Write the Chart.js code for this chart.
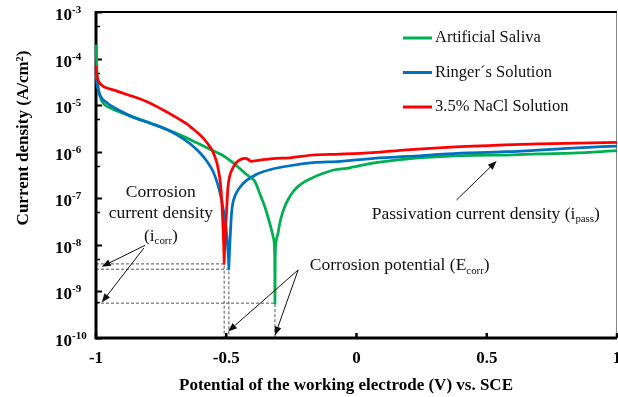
<!DOCTYPE html>
<html>
<head>
<meta charset="utf-8">
<title>Potentiodynamic polarisation curves</title>
<script src="https://cdn.jsdelivr.net/npm/chart.js@4.4.1/dist/chart.umd.min.js"></script>
<style>
  html, body { margin: 0; padding: 0; background: #fff; }
  #wrap { width: 618px; height: 397px; }
</style>
</head>
<body>
<div id="wrap"><canvas id="chart" width="618" height="397"></canvas></div>
<script>
// ---- Data: potential (V vs. SCE) and current density (A/cm2) ----

const salivaE = [-1.000, -0.998, -0.996, -0.992, -0.985, -0.975, -0.950, -0.900, -0.858, -0.793,
  -0.728, -0.678, -0.613, -0.551, -0.513, -0.486, -0.460, -0.436, -0.415, -0.390,
  -0.370, -0.352, -0.333, -0.320, -0.316, -0.314, -0.313, -0.312, -0.310, -0.306,
  -0.301, -0.295, -0.288, -0.276, -0.263, -0.245, -0.224, -0.200, -0.173, -0.130,
  -0.083, -0.037, 0.062, 0.200, 0.319, 0.450, 0.576, 0.700, 0.829, 1.000];
const salivaI = [2.0e-4, 1.0e-4, 5.0e-5, 2.6e-5, 1.6e-5, 1.15e-5, 9.0e-6, 6.8e-6, 5.6e-6, 4.2e-6,
  3.0e-6, 2.3e-6, 1.55e-6, 1.05e-6, 8.3e-7, 6.5e-7, 5.0e-7, 3.8e-7, 3.0e-7, 2.3e-7,
  1.2e-7, 6.6e-8, 2.9e-8, 1.5e-8, 1.1e-8, 5.0e-9, 5.6e-10, 5.0e-9, 1.0e-8, 1.4e-8,
  1.8e-8, 2.8e-8, 4.1e-8, 6.5e-8, 9.3e-8, 1.35e-7, 1.8e-7, 2.25e-7, 2.7e-7, 3.4e-7,
  4.1e-7, 4.4e-7, 5.7e-7, 7.0e-7, 7.8e-7, 8.3e-7, 8.5e-7, 9.0e-7, 9.3e-7, 1.05e-6];

const ringerE = [-1.000, -0.998, -0.995, -0.988, -0.975, -0.960, -0.946, -0.900, -0.858, -0.793,
  -0.728, -0.689, -0.640, -0.601, -0.575, -0.551, -0.535, -0.524, -0.513, -0.505,
  -0.498, -0.494, -0.491, -0.490, -0.489, -0.487, -0.485, -0.482, -0.478, -0.470,
  -0.455, -0.438, -0.421, -0.400, -0.383, -0.333, -0.256, -0.168, -0.064, 0.089,
  0.193, 0.350, 0.576, 0.829, 1.000];
const ringerI = [5.0e-5, 3.6e-5, 2.6e-5, 1.8e-5, 1.35e-5, 1.15e-5, 1.0e-5, 7.2e-6, 5.5e-6, 4.1e-6,
  3.0e-6, 2.3e-6, 1.5e-6, 9.5e-7, 6.3e-7, 3.8e-7, 2.2e-7, 1.3e-7, 6.5e-8, 3.5e-8,
  1.6e-8, 8.0e-9, 4.5e-9, 3.0e-9, 4.5e-9, 8.0e-9, 1.4e-8, 3.0e-8, 6.0e-8, 1.0e-7,
  1.5e-7, 2.0e-7, 2.45e-7, 2.9e-7, 3.3e-7, 4.1e-7, 5.0e-7, 5.8e-7, 6.2e-7, 7.4e-7,
  7.9e-7, 9.0e-7, 1.0e-6, 1.2e-6, 1.32e-6];

const naclE = [-1.000, -0.998, -0.994, -0.988, -0.975, -0.955, -0.930, -0.896, -0.860, -0.830,
  -0.800, -0.766, -0.735, -0.705, -0.678, -0.650, -0.628, -0.610, -0.590, -0.572,
  -0.555, -0.545, -0.536, -0.530, -0.524, -0.520, -0.517, -0.514, -0.511, -0.509,
  -0.508, -0.507, -0.505, -0.503, -0.500, -0.497, -0.494, -0.488, -0.478, -0.468,
  -0.459, -0.447, -0.436, -0.425, -0.417, -0.410, -0.402, -0.390, -0.371, -0.321,
  -0.256, -0.168, -0.064, 0.062, 0.193, 0.446, 0.703, 1.000];
const naclI = [7.0e-5, 5.0e-5, 3.8e-5, 3.1e-5, 2.6e-5, 2.3e-5, 2.1e-5, 1.8e-5, 1.55e-5, 1.35e-5,
  1.15e-5, 9.3e-6, 7.5e-6, 6.0e-6, 4.9e-6, 3.9e-6, 3.1e-6, 2.55e-6, 2.0e-6, 1.5e-6,
  1.1e-6, 8.2e-7, 5.8e-7, 4.0e-7, 2.5e-7, 1.5e-7, 8.5e-8, 3.8e-8, 1.5e-8, 7.0e-9,
  3.9e-9, 6.5e-9, 1.2e-8, 2.2e-8, 4.0e-8, 8.0e-8, 1.6e-7, 2.8e-7, 4.1e-7, 5.2e-7,
  6.0e-7, 6.7e-7, 7.1e-7, 7.2e-7, 6.9e-7, 6.4e-7, 6.2e-7, 6.4e-7, 6.6e-7, 7.1e-7,
  7.4e-7, 8.5e-7, 8.9e-7, 9.6e-7, 1.1e-6, 1.32e-6, 1.48e-6, 1.58e-6];

const seriesLabels = ['Artificial Saliva', 'Ringer\u00b4s Solution', '3.5% NaCl Solution'];
const seriesColors = ['#00b050', '#0070c0', '#ff0000'];

// corrosion potential / corrosion current of each curve (same order as the series)
const ecorr = [-0.313, -0.490, -0.508];
const icorr = [5.6e-10, 3.0e-9, 3.9e-9];

const xTicks = [-1, -0.5, 0, 0.5, 1];
const xTickLabels = ['-1', '-0.5', '0', '0.5', '1'];
const yTickExps = [-3, -4, -5, -6, -7, -8, -9, -10];

const xTitle = 'Potential of the working electrode (V) vs. SCE';
const yTitle = 'Current density (A/cm\u00b2)';

// ---- Style ----

const SERIF = '"Liberation Serif", "Times New Roman", serif';
const AXIS = '#000';
const DASH = '#555';

function pts(xs, ys) { return xs.map((x, i) => ({ x, y: ys[i] })); }

// text with optional subscript parts: [['(i'], ['corr', true], [')']]
function richText(ctx, parts, x, y, size, align) {
  const subSize = size * 0.62;
  let total = 0;
  const widths = parts.map(([t, sub]) => {
    ctx.font = `${sub ? subSize : size}px ${SERIF}`;
    const w = ctx.measureText(t).width;
    total += w;
    return w;
  });
  let cx = align === 'center' ? x - total / 2 : x;
  ctx.textAlign = 'left';
  ctx.textBaseline = 'alphabetic';
  parts.forEach(([t, sub], i) => {
    ctx.font = `${sub ? subSize : size}px ${SERIF}`;
    ctx.fillText(t, cx, y + (sub ? size * 0.2 : 0));
    cx += widths[i];
  });
}

function arrow(ctx, x1, y1, x2, y2) {
  const ang = Math.atan2(y2 - y1, x2 - x1);
  const head = 9, half = 3.5;
  ctx.beginPath();
  ctx.moveTo(x1, y1);
  ctx.lineTo(x2 - Math.cos(ang) * head * 0.8, y2 - Math.sin(ang) * head * 0.8);
  ctx.stroke();
  ctx.beginPath();
  ctx.moveTo(x2, y2);
  ctx.lineTo(x2 - Math.cos(ang) * head + Math.sin(ang) * half, y2 - Math.sin(ang) * head - Math.cos(ang) * half);
  ctx.lineTo(x2 - Math.cos(ang) * head - Math.sin(ang) * half, y2 - Math.sin(ang) * head + Math.cos(ang) * half);
  ctx.closePath();
  ctx.fill();
}

// ---- Plugin: frame, ticks, labels, legend and annotations ----

const decorations = {
  id: 'decorations',

  // dashed Ecorr/icorr guides and the axis frame sit under the curves
  beforeDatasetsDraw(chart) {
    const { ctx, scales: { x, y }, chartArea: a } = chart;
    ctx.save();
    ctx.strokeStyle = DASH;
    ctx.lineWidth = 1;
    ctx.setLineDash([3, 2]);
    ecorr.forEach((e, i) => {
      const px = x.getPixelForValue(e);
      const py = y.getPixelForValue(icorr[i]);
      ctx.beginPath();
      ctx.moveTo(a.left, py);
      ctx.lineTo(px, py);
      ctx.lineTo(px, a.bottom);
      ctx.stroke();
    });
    ctx.setLineDash([]);

    // frame
    ctx.strokeStyle = '#888';
    ctx.lineWidth = 1;
    ctx.beginPath();
    ctx.moveTo(a.right - 0.5, a.top);
    ctx.lineTo(a.right - 0.5, a.bottom);
    ctx.stroke();
    ctx.strokeStyle = AXIS;
    ctx.lineWidth = 2;
    ctx.beginPath();
    ctx.moveTo(a.left, a.top);
    ctx.lineTo(a.right, a.top);
    ctx.stroke();
    ctx.lineWidth = 3;
    ctx.beginPath();
    ctx.moveTo(a.left, a.top - 1);
    ctx.lineTo(a.left, a.bottom);
    ctx.lineTo(a.right, a.bottom);
    ctx.stroke();

    // y ticks (inside), minor ticks from the log scale
    y.ticks.forEach(t => {
      const lg = Math.log10(t.value);
      const major = Math.abs(lg - Math.round(lg)) < 1e-6;
      const py = Math.round(y.getPixelForValue(t.value)) + 0.5;
      ctx.lineWidth = major ? 2 : 1.5;
      ctx.beginPath();
      ctx.moveTo(a.left, py);
      ctx.lineTo(a.left + (major ? 6 : 4), py);
      ctx.stroke();
    });

    // x ticks (inside)
    ctx.lineWidth = 2.5;
    xTicks.forEach(v => {
      const px = x.getPixelForValue(v);
      ctx.beginPath();
      ctx.moveTo(px, a.bottom);
      ctx.lineTo(px, a.bottom - 5);
      ctx.stroke();
    });
    ctx.restore();
  },

  afterDatasetsDraw(chart) {
    const { ctx, scales: { x, y }, chartArea: a } = chart;
    ctx.save();

    ctx.fillStyle = AXIS;
    // x tick labels
    ctx.font = `bold 17px ${SERIF}`;
    ctx.textAlign = 'center';
    ctx.textBaseline = 'middle';
    xTicks.forEach((v, i) => ctx.fillText(xTickLabels[i], x.getPixelForValue(v), a.bottom + 21));

    // y tick labels: 10 with superscript exponent
    yTickExps.forEach(e => {
      const py = y.getPixelForValue(Math.pow(10, e));
      ctx.textAlign = 'left';
      ctx.textBaseline = 'alphabetic';
      ctx.font = `bold 17px ${SERIF}`;
      ctx.fillText('10', 55, py + 8);
      const w = ctx.measureText('10').width;
      ctx.font = `bold 11px ${SERIF}`;
      ctx.fillText(String(e), 55 + w, py + 1);
    });

    // axis titles
    ctx.font = `bold 17px ${SERIF}`;
    ctx.textAlign = 'center';
    ctx.textBaseline = 'middle';
    ctx.fillText(xTitle, 346, 386);
    ctx.save();
    ctx.translate(24, 138);
    ctx.rotate(-Math.PI / 2);
    ctx.fillText(yTitle, 0, 0);
    ctx.restore();

    // legend
    ctx.textAlign = 'left';
    ctx.font = `16.5px ${SERIF}`;
    seriesLabels.forEach((lab, i) => {
      const ly = 38 + i * 34.5;
      ctx.strokeStyle = seriesColors[i];
      ctx.lineWidth = 3;
      ctx.beginPath();
      ctx.moveTo(403, ly);
      ctx.lineTo(432, ly);
      ctx.stroke();
      ctx.fillStyle = '#111';
      ctx.fillText(lab, 435, ly);
    });

    // annotations
    ctx.fillStyle = '#111';
    ctx.strokeStyle = '#111';
    ctx.lineWidth = 1;
    const P = (e, i) => [x.getPixelForValue(e), y.getPixelForValue(i)];

    const [cx, cy] = P(-0.751, 1.31e-7);
    ctx.font = `17.5px ${SERIF}`;
    ctx.textAlign = 'center';
    ctx.textBaseline = 'middle';
    ctx.fillText('Corrosion', cx, cy);
    ctx.fillText('current density', cx, cy + 21);
    richText(ctx, [['(i'], ['corr', true], [')']], cx, cy + 48, 17.5, 'center');

    let [sx, sy] = P(-0.812, 9.75e-9);
    let [tx, ty] = P(-0.978, 3.4e-9);
    arrow(ctx, sx, sy, tx, ty);
    [sx, sy] = P(-0.816, 8.6e-9);
    [tx, ty] = P(-0.978, 5.8e-10);
    arrow(ctx, sx, sy, tx, ty);

    const [ex, ey] = P(-0.179, 3.8e-9);
    richText(ctx, [['Corrosion potential (E'], ['corr', true], [')']], ex, ey + 6, 17.5, 'left');
    [sx, sy] = P(-0.224, 2.9e-9);
    [tx, ty] = P(-0.493, 1.38e-10);
    arrow(ctx, sx, sy, tx, ty);
    [tx, ty] = P(-0.313, 1.13e-10);
    arrow(ctx, sx, sy, tx, ty);

    const [qx, qy] = P(0.0585, 4.9e-8);
    richText(ctx, [['Passivation current density (i'], ['pass', true], [')']], qx, qy + 6, 17.5, 'left');
    [sx, sy] = P(0.384, 9.2e-8);
    [tx, ty] = P(0.538, 6.35e-7);
    arrow(ctx, sx, sy, tx, ty);

    ctx.restore();
  }
};

// ---- Chart ----

const datasets = [
  [salivaE, salivaI],
  [ringerE, ringerI],
  [naclE, naclI],
].map(([xs, ys], i) => ({
  label: seriesLabels[i],
  data: pts(xs, ys),
  borderColor: seriesColors[i],
  borderWidth: 2.75,
  pointRadius: 0,
  cubicInterpolationMode: 'monotone',
  clip: 3, // let the curves run over the thick left axis like the original
  order: 2 - i, // NaCl drawn on top
}));

new Chart(document.getElementById('chart'), {
  type: 'line',
  data: { datasets },
  options: {
    responsive: false,
    animation: false,
    devicePixelRatio: 1,
    layout: { padding: { left: 96, right: 1, top: 12, bottom: 59 } },
    plugins: { legend: { display: false }, tooltip: { enabled: false } },
    scales: {
      x: { type: 'linear', min: -1, max: 1, display: false },
      y: { type: 'logarithmic', min: 1e-10, max: 1e-3, display: false },
    },
  },
  plugins: [decorations],
});
</script>
</body>
</html>
